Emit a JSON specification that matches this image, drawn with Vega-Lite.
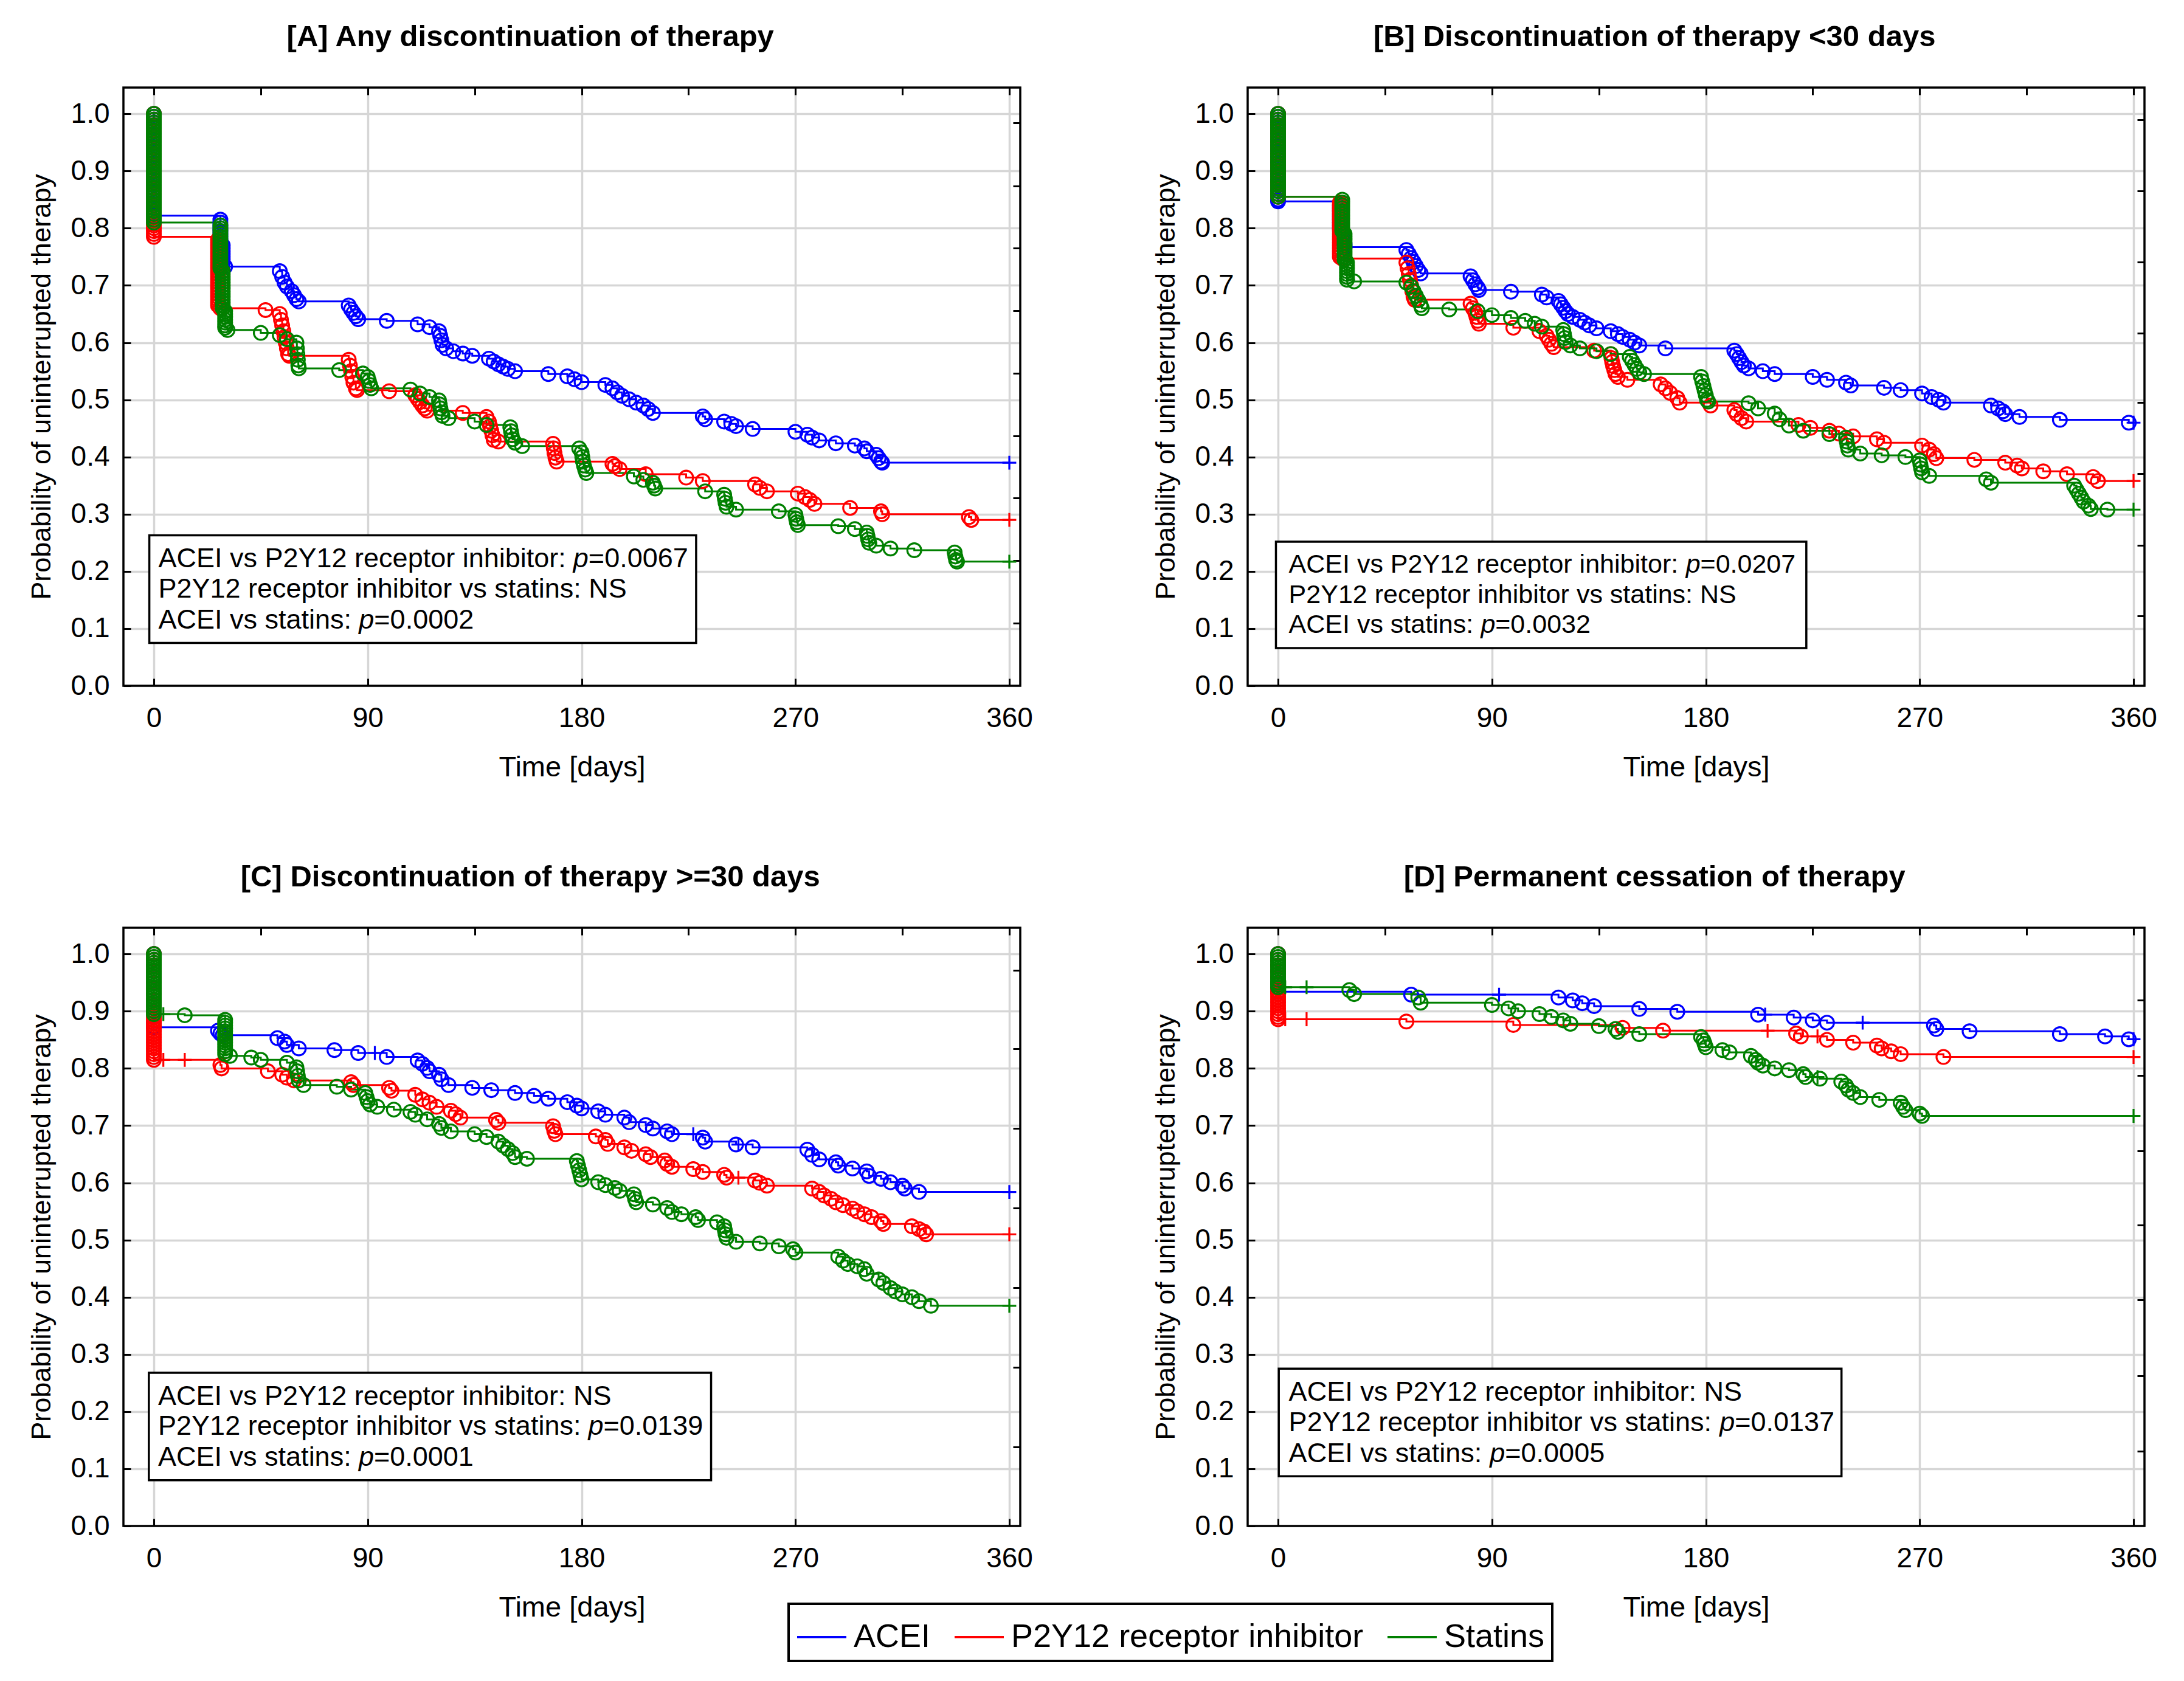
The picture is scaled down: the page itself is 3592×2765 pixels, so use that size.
{
  "$schema": "https://vega.github.io/schema/vega-lite/v6.json",
  "background": "white",
  "padding": {"left": 46, "top": 37, "right": 10, "bottom": 10},
  "bounds": "flush",
  "columns": 2,
  "spacing": {"row": 398, "column": 374},
  "config": {
    "font": "Liberation Sans",
    "view": {"stroke": null},
    "axis": {"domain": false, "labelFont": "Liberation Sans", "labelFontSize": 46, "labelColor": "black", "titleFont": "Liberation Sans", "titleFontWeight": "normal", "titleColor": "black", "tickColor": "black", "tickWidth": 3, "tickSize": -12, "gridColor": "#d6d6d6", "gridWidth": 3.5, "labelFlush": false, "labelOverlap": false},
    "title": {"font": "Liberation Sans", "fontSize": 49, "fontWeight": "bold", "color": "black", "anchor": "middle", "frame": "bounds", "offset": 56},
    "text": {"font": "Liberation Sans", "fontSize": 45, "align": "left", "baseline": "alphabetic", "color": "black"},
    "legend": {"strokeColor": "black", "strokeWidth": 4, "padding": 12, "labelFont": "Liberation Sans", "labelFontSize": 54, "labelColor": "black", "labelLimit": 2000, "labelOffset": 10, "columnPadding": 32, "symbolStrokeWidth": 3.5}
  },
  "datasets": {
    "A": [
      {"g":"A","t":0,"s":1},{"g":"A","t":0,"s":0.995},{"g":"A","t":0,"s":0.99},{"g":"A","t":0,"s":0.985},{"g":"A","t":0,"s":0.98},{"g":"A","t":0,"s":0.975},{"g":"A","t":0,"s":0.97},{"g":"A","t":0,"s":0.965},{"g":"A","t":0,"s":0.96},{"g":"A","t":0,"s":0.955},{"g":"A","t":0,"s":0.95},{"g":"A","t":0,"s":0.945},{"g":"A","t":0,"s":0.94},{"g":"A","t":0,"s":0.935},{"g":"A","t":0,"s":0.93},{"g":"A","t":0,"s":0.925},{"g":"A","t":0,"s":0.92},{"g":"A","t":0,"s":0.915},{"g":"A","t":0,"s":0.91},{"g":"A","t":0,"s":0.905},{"g":"A","t":0,"s":0.9},{"g":"A","t":0,"s":0.895},{"g":"A","t":0,"s":0.89},{"g":"A","t":0,"s":0.885},{"g":"A","t":0,"s":0.88},{"g":"A","t":0,"s":0.875},{"g":"A","t":0,"s":0.87},{"g":"A","t":0,"s":0.865},{"g":"A","t":0,"s":0.86},{"g":"A","t":0,"s":0.855},{"g":"A","t":0,"s":0.85},{"g":"A","t":0,"s":0.845},{"g":"A","t":0,"s":0.84},{"g":"A","t":0,"s":0.835},{"g":"A","t":0,"s":0.83},{"g":"A","t":0,"s":0.826},{"g":"A","t":0,"s":0.822},
      {"g":"A","t":28,"s":0.815},{"g":"A","t":28,"s":0.81},{"g":"A","t":28,"s":0.805},{"g":"A","t":28,"s":0.8},{"g":"A","t":28,"s":0.795},{"g":"A","t":28,"s":0.79},{"g":"A","t":28,"s":0.785},{"g":"A","t":28,"s":0.78},{"g":"A","t":28,"s":0.775},{"g":"A","t":29,"s":0.77},{"g":"A","t":29,"s":0.765},{"g":"A","t":29,"s":0.76},{"g":"A","t":29,"s":0.755},{"g":"A","t":29,"s":0.75},{"g":"A","t":29,"s":0.745},{"g":"A","t":29,"s":0.74},{"g":"A","t":30,"s":0.733},
      {"g":"A","t":53,"s":0.725},{"g":"A","t":54,"s":0.715},{"g":"A","t":55,"s":0.705},{"g":"A","t":56,"s":0.698},{"g":"A","t":58,"s":0.69},{"g":"A","t":59,"s":0.683},{"g":"A","t":60,"s":0.676},{"g":"A","t":61,"s":0.672},
      {"g":"A","t":82,"s":0.665},{"g":"A","t":83,"s":0.658},{"g":"A","t":84,"s":0.652},{"g":"A","t":85,"s":0.646},{"g":"A","t":86,"s":0.641},{"g":"A","t":98,"s":0.638},
      {"g":"A","t":111,"s":0.632},{"g":"A","t":116,"s":0.627},{"g":"A","t":120,"s":0.62},{"g":"A","t":120.5,"s":0.612},{"g":"A","t":121,"s":0.604},{"g":"A","t":121.5,"s":0.596},{"g":"A","t":123,"s":0.59},{"g":"A","t":126,"s":0.585},{"g":"A","t":130,"s":0.581},{"g":"A","t":134,"s":0.577},
      {"g":"A","t":141,"s":0.572},{"g":"A","t":143,"s":0.567},{"g":"A","t":145,"s":0.562},{"g":"A","t":147,"s":0.558},{"g":"A","t":149,"s":0.554},{"g":"A","t":152,"s":0.55},
      {"g":"A","t":166,"s":0.545},{"g":"A","t":174,"s":0.541},{"g":"A","t":177,"s":0.536},{"g":"A","t":180,"s":0.531},
      {"g":"A","t":190,"s":0.526},{"g":"A","t":193,"s":0.52},{"g":"A","t":195,"s":0.513},{"g":"A","t":197,"s":0.507},{"g":"A","t":200,"s":0.501},{"g":"A","t":203,"s":0.495},{"g":"A","t":206,"s":0.49},{"g":"A","t":208,"s":0.484},{"g":"A","t":210,"s":0.477},
      {"g":"A","t":231,"s":0.471},{"g":"A","t":232,"s":0.466},{"g":"A","t":240,"s":0.462},{"g":"A","t":243,"s":0.458},{"g":"A","t":245,"s":0.454},{"g":"A","t":252,"s":0.449},
      {"g":"A","t":270,"s":0.444},{"g":"A","t":275,"s":0.439},{"g":"A","t":277,"s":0.434},{"g":"A","t":280,"s":0.429},{"g":"A","t":287,"s":0.424},{"g":"A","t":295,"s":0.42},{"g":"A","t":299,"s":0.415},{"g":"A","t":300,"s":0.41},{"g":"A","t":304,"s":0.404},{"g":"A","t":305,"s":0.398},{"g":"A","t":306,"s":0.392},{"g":"A","t":306.5,"s":0.39},
      {"g":"A","t":360,"s":0.39,"m":"+"},
      {"g":"P","t":0,"s":1},{"g":"P","t":0,"s":0.99},{"g":"P","t":0,"s":0.98},{"g":"P","t":0,"s":0.97},{"g":"P","t":0,"s":0.96},{"g":"P","t":0,"s":0.95},{"g":"P","t":0,"s":0.94},{"g":"P","t":0,"s":0.93},{"g":"P","t":0,"s":0.92},{"g":"P","t":0,"s":0.91},{"g":"P","t":0,"s":0.9},{"g":"P","t":0,"s":0.89},{"g":"P","t":0,"s":0.88},{"g":"P","t":0,"s":0.87},{"g":"P","t":0,"s":0.86},{"g":"P","t":0,"s":0.85},{"g":"P","t":0,"s":0.84},{"g":"P","t":0,"s":0.83},{"g":"P","t":0,"s":0.82},{"g":"P","t":0,"s":0.815},{"g":"P","t":0,"s":0.81},{"g":"P","t":0,"s":0.805},{"g":"P","t":0,"s":0.8},{"g":"P","t":0,"s":0.795},{"g":"P","t":0,"s":0.79},{"g":"P","t":0,"s":0.785},
      {"g":"P","t":27,"s":0.78},{"g":"P","t":27,"s":0.775},{"g":"P","t":27,"s":0.77},{"g":"P","t":27,"s":0.765},{"g":"P","t":27,"s":0.76},{"g":"P","t":27,"s":0.755},{"g":"P","t":27,"s":0.75},{"g":"P","t":27,"s":0.745},{"g":"P","t":27,"s":0.74},{"g":"P","t":27,"s":0.735},{"g":"P","t":27,"s":0.73},{"g":"P","t":27,"s":0.725},{"g":"P","t":27,"s":0.72},{"g":"P","t":27,"s":0.715},{"g":"P","t":27,"s":0.71},{"g":"P","t":27,"s":0.705},{"g":"P","t":27,"s":0.7},{"g":"P","t":27,"s":0.695},{"g":"P","t":27,"s":0.69},{"g":"P","t":27,"s":0.685},{"g":"P","t":27,"s":0.68},{"g":"P","t":27,"s":0.675},{"g":"P","t":27,"s":0.67},{"g":"P","t":27,"s":0.665},{"g":"P","t":28,"s":0.66},
      {"g":"P","t":47,"s":0.657},{"g":"P","t":53,"s":0.65},{"g":"P","t":53.5,"s":0.64},{"g":"P","t":54,"s":0.63},{"g":"P","t":54.5,"s":0.62},{"g":"P","t":55,"s":0.61},{"g":"P","t":55.5,"s":0.6},{"g":"P","t":56,"s":0.59},{"g":"P","t":56.5,"s":0.58},{"g":"P","t":57,"s":0.577},
      {"g":"P","t":82,"s":0.57},{"g":"P","t":82.5,"s":0.56},{"g":"P","t":83,"s":0.55},{"g":"P","t":83.5,"s":0.54},{"g":"P","t":84,"s":0.53},{"g":"P","t":85,"s":0.52},{"g":"P","t":85.5,"s":0.517},{"g":"P","t":99,"s":0.515},
      {"g":"P","t":110,"s":0.508},{"g":"P","t":111,"s":0.502},{"g":"P","t":112,"s":0.496},{"g":"P","t":113,"s":0.49},{"g":"P","t":114,"s":0.485},{"g":"P","t":115,"s":0.481},
      {"g":"P","t":130,"s":0.477},{"g":"P","t":140,"s":0.47},{"g":"P","t":141,"s":0.462},{"g":"P","t":141.5,"s":0.454},{"g":"P","t":142,"s":0.446},{"g":"P","t":142.5,"s":0.438},{"g":"P","t":143,"s":0.43},{"g":"P","t":145,"s":0.427},
      {"g":"P","t":168,"s":0.423},{"g":"P","t":168.3,"s":0.415},{"g":"P","t":168.6,"s":0.407},{"g":"P","t":169,"s":0.399},{"g":"P","t":169.5,"s":0.392},
      {"g":"P","t":193,"s":0.388},{"g":"P","t":194,"s":0.384},{"g":"P","t":196,"s":0.379},{"g":"P","t":207,"s":0.37},{"g":"P","t":224,"s":0.364},{"g":"P","t":231,"s":0.358},{"g":"P","t":253,"s":0.352},{"g":"P","t":255,"s":0.346},{"g":"P","t":258,"s":0.34},
      {"g":"P","t":271,"s":0.336},{"g":"P","t":274,"s":0.33},{"g":"P","t":276,"s":0.325},{"g":"P","t":278,"s":0.318},{"g":"P","t":293,"s":0.311},{"g":"P","t":306,"s":0.305},{"g":"P","t":306.5,"s":0.3},{"g":"P","t":343,"s":0.295},{"g":"P","t":344,"s":0.29},
      {"g":"P","t":360,"s":0.29,"m":"+"},
      {"g":"S","t":0,"s":1},{"g":"S","t":0,"s":0.995},{"g":"S","t":0,"s":0.99},{"g":"S","t":0,"s":0.985},{"g":"S","t":0,"s":0.98},{"g":"S","t":0,"s":0.975},{"g":"S","t":0,"s":0.97},{"g":"S","t":0,"s":0.965},{"g":"S","t":0,"s":0.96},{"g":"S","t":0,"s":0.955},{"g":"S","t":0,"s":0.95},{"g":"S","t":0,"s":0.945},{"g":"S","t":0,"s":0.94},{"g":"S","t":0,"s":0.935},{"g":"S","t":0,"s":0.93},{"g":"S","t":0,"s":0.925},{"g":"S","t":0,"s":0.92},{"g":"S","t":0,"s":0.915},{"g":"S","t":0,"s":0.91},{"g":"S","t":0,"s":0.905},{"g":"S","t":0,"s":0.9},{"g":"S","t":0,"s":0.895},{"g":"S","t":0,"s":0.89},{"g":"S","t":0,"s":0.885},{"g":"S","t":0,"s":0.88},{"g":"S","t":0,"s":0.875},{"g":"S","t":0,"s":0.87},{"g":"S","t":0,"s":0.865},{"g":"S","t":0,"s":0.86},{"g":"S","t":0,"s":0.855},{"g":"S","t":0,"s":0.85},{"g":"S","t":0,"s":0.845},{"g":"S","t":0,"s":0.84},{"g":"S","t":0,"s":0.835},{"g":"S","t":0,"s":0.83},{"g":"S","t":0,"s":0.825},{"g":"S","t":0,"s":0.82},{"g":"S","t":0,"s":0.815},{"g":"S","t":0,"s":0.81},
      {"g":"S","t":28,"s":0.805},{"g":"S","t":28,"s":0.8},{"g":"S","t":28,"s":0.795},{"g":"S","t":28,"s":0.79},{"g":"S","t":28,"s":0.785},{"g":"S","t":28,"s":0.78},{"g":"S","t":28,"s":0.775},{"g":"S","t":28,"s":0.77},{"g":"S","t":28,"s":0.765},{"g":"S","t":28,"s":0.76},{"g":"S","t":28,"s":0.755},{"g":"S","t":28,"s":0.75},{"g":"S","t":28,"s":0.745},{"g":"S","t":28,"s":0.74},{"g":"S","t":28,"s":0.735},{"g":"S","t":28,"s":0.73},{"g":"S","t":29,"s":0.725},{"g":"S","t":29,"s":0.72},{"g":"S","t":29,"s":0.715},{"g":"S","t":29,"s":0.71},{"g":"S","t":29,"s":0.705},{"g":"S","t":29,"s":0.7},{"g":"S","t":29,"s":0.695},{"g":"S","t":29,"s":0.69},{"g":"S","t":29,"s":0.685},{"g":"S","t":29,"s":0.68},{"g":"S","t":29,"s":0.675},{"g":"S","t":29,"s":0.67},{"g":"S","t":29,"s":0.665},{"g":"S","t":29,"s":0.66},{"g":"S","t":30,"s":0.655},{"g":"S","t":30,"s":0.65},{"g":"S","t":30,"s":0.645},{"g":"S","t":30,"s":0.64},{"g":"S","t":30,"s":0.635},{"g":"S","t":30,"s":0.63},{"g":"S","t":30,"s":0.626},{"g":"S","t":31,"s":0.622},
      {"g":"S","t":45,"s":0.617},{"g":"S","t":53,"s":0.613},{"g":"S","t":56,"s":0.606},{"g":"S","t":60,"s":0.6},{"g":"S","t":60.2,"s":0.59},{"g":"S","t":60.4,"s":0.58},{"g":"S","t":60.6,"s":0.57},{"g":"S","t":60.8,"s":0.56},{"g":"S","t":61,"s":0.555},
      {"g":"S","t":78,"s":0.552},{"g":"S","t":88,"s":0.546},{"g":"S","t":90,"s":0.54},{"g":"S","t":90.5,"s":0.533},{"g":"S","t":91,"s":0.526},{"g":"S","t":91.5,"s":0.52},
      {"g":"S","t":108,"s":0.518},{"g":"S","t":112,"s":0.511},{"g":"S","t":116,"s":0.505},{"g":"S","t":120,"s":0.499},{"g":"S","t":120.3,"s":0.492},{"g":"S","t":120.6,"s":0.485},{"g":"S","t":121,"s":0.478},{"g":"S","t":121.5,"s":0.472},{"g":"S","t":124,"s":0.468},
      {"g":"S","t":135,"s":0.462},{"g":"S","t":140,"s":0.456},{"g":"S","t":150,"s":0.452},{"g":"S","t":150.3,"s":0.445},{"g":"S","t":150.6,"s":0.438},{"g":"S","t":151,"s":0.431},{"g":"S","t":152,"s":0.425},{"g":"S","t":155,"s":0.419},
      {"g":"S","t":179,"s":0.415},{"g":"S","t":180,"s":0.408},{"g":"S","t":180.3,"s":0.4},{"g":"S","t":180.6,"s":0.392},{"g":"S","t":181,"s":0.385},{"g":"S","t":181.5,"s":0.378},{"g":"S","t":182,"s":0.372},
      {"g":"S","t":202,"s":0.366},{"g":"S","t":206,"s":0.36},{"g":"S","t":210,"s":0.355},{"g":"S","t":210.5,"s":0.35},{"g":"S","t":211,"s":0.345},
      {"g":"S","t":232,"s":0.34},{"g":"S","t":240,"s":0.334},{"g":"S","t":240.3,"s":0.327},{"g":"S","t":240.6,"s":0.32},{"g":"S","t":241,"s":0.313},{"g":"S","t":245,"s":0.308},
      {"g":"S","t":263,"s":0.305},{"g":"S","t":270,"s":0.299},{"g":"S","t":270.3,"s":0.292},{"g":"S","t":270.6,"s":0.286},{"g":"S","t":271,"s":0.281},
      {"g":"S","t":288,"s":0.279},{"g":"S","t":295,"s":0.274},{"g":"S","t":300,"s":0.268},{"g":"S","t":300.3,"s":0.262},{"g":"S","t":300.6,"s":0.256},{"g":"S","t":301,"s":0.25},{"g":"S","t":304,"s":0.245},{"g":"S","t":310,"s":0.24},{"g":"S","t":320,"s":0.237},
      {"g":"S","t":337,"s":0.233},{"g":"S","t":337.3,"s":0.226},{"g":"S","t":337.6,"s":0.22},{"g":"S","t":338,"s":0.217},
      {"g":"S","t":360,"s":0.217,"m":"+"}
    ],
    "B": [
      {"g":"A","t":0,"s":1},{"g":"A","t":0,"s":0.995},{"g":"A","t":0,"s":0.99},{"g":"A","t":0,"s":0.985},{"g":"A","t":0,"s":0.98},{"g":"A","t":0,"s":0.975},{"g":"A","t":0,"s":0.97},{"g":"A","t":0,"s":0.965},{"g":"A","t":0,"s":0.96},{"g":"A","t":0,"s":0.955},{"g":"A","t":0,"s":0.95},{"g":"A","t":0,"s":0.945},{"g":"A","t":0,"s":0.94},{"g":"A","t":0,"s":0.935},{"g":"A","t":0,"s":0.93},{"g":"A","t":0,"s":0.925},{"g":"A","t":0,"s":0.92},{"g":"A","t":0,"s":0.915},{"g":"A","t":0,"s":0.91},{"g":"A","t":0,"s":0.905},{"g":"A","t":0,"s":0.9},{"g":"A","t":0,"s":0.895},{"g":"A","t":0,"s":0.89},{"g":"A","t":0,"s":0.885},{"g":"A","t":0,"s":0.88},{"g":"A","t":0,"s":0.875},{"g":"A","t":0,"s":0.87},{"g":"A","t":0,"s":0.865},{"g":"A","t":0,"s":0.86},{"g":"A","t":0,"s":0.855},{"g":"A","t":0,"s":0.85},{"g":"A","t":0,"s":0.847},
      {"g":"A","t":26,"s":0.84},{"g":"A","t":26,"s":0.835},{"g":"A","t":26,"s":0.83},{"g":"A","t":26,"s":0.825},{"g":"A","t":26,"s":0.82},{"g":"A","t":26,"s":0.815},{"g":"A","t":26,"s":0.81},{"g":"A","t":26,"s":0.805},{"g":"A","t":26,"s":0.8},{"g":"A","t":27,"s":0.795},{"g":"A","t":27,"s":0.79},{"g":"A","t":27,"s":0.785},{"g":"A","t":27,"s":0.78},{"g":"A","t":28,"s":0.772},{"g":"A","t":28,"s":0.767},
      {"g":"A","t":54,"s":0.762},{"g":"A","t":55,"s":0.755},{"g":"A","t":56,"s":0.748},{"g":"A","t":57,"s":0.741},{"g":"A","t":58,"s":0.734},{"g":"A","t":59,"s":0.727},{"g":"A","t":60,"s":0.721},
      {"g":"A","t":81,"s":0.716},{"g":"A","t":82,"s":0.709},{"g":"A","t":83,"s":0.702},{"g":"A","t":84,"s":0.696},{"g":"A","t":84.5,"s":0.692},
      {"g":"A","t":98,"s":0.689},{"g":"A","t":111,"s":0.684},{"g":"A","t":113,"s":0.679},{"g":"A","t":118,"s":0.673},{"g":"A","t":119,"s":0.667},{"g":"A","t":120,"s":0.661},{"g":"A","t":121,"s":0.655},{"g":"A","t":122,"s":0.65},{"g":"A","t":124,"s":0.645},{"g":"A","t":127,"s":0.64},{"g":"A","t":129,"s":0.635},{"g":"A","t":131,"s":0.63},{"g":"A","t":134,"s":0.625},{"g":"A","t":140,"s":0.62},{"g":"A","t":143,"s":0.615},{"g":"A","t":145,"s":0.61},{"g":"A","t":148,"s":0.605},{"g":"A","t":150,"s":0.6},{"g":"A","t":152,"s":0.595},
      {"g":"A","t":163,"s":0.59},{"g":"A","t":192,"s":0.586},{"g":"A","t":193,"s":0.58},{"g":"A","t":194,"s":0.573},{"g":"A","t":195,"s":0.566},{"g":"A","t":196,"s":0.56},{"g":"A","t":198,"s":0.555},{"g":"A","t":204,"s":0.55},{"g":"A","t":209,"s":0.545},
      {"g":"A","t":225,"s":0.54},{"g":"A","t":231,"s":0.535},{"g":"A","t":239,"s":0.53},{"g":"A","t":241,"s":0.525},{"g":"A","t":255,"s":0.521},{"g":"A","t":262,"s":0.517},{"g":"A","t":271,"s":0.511},{"g":"A","t":275,"s":0.505},{"g":"A","t":278,"s":0.5},{"g":"A","t":280,"s":0.495},
      {"g":"A","t":300,"s":0.49},{"g":"A","t":303,"s":0.485},{"g":"A","t":305,"s":0.48},{"g":"A","t":306,"s":0.475},{"g":"A","t":312,"s":0.47},{"g":"A","t":329,"s":0.465},{"g":"A","t":358,"s":0.46},
      {"g":"A","t":360,"s":0.46,"m":"+"},
      {"g":"P","t":0,"s":1},{"g":"P","t":0,"s":0.99},{"g":"P","t":0,"s":0.98},{"g":"P","t":0,"s":0.97},{"g":"P","t":0,"s":0.96},{"g":"P","t":0,"s":0.95},{"g":"P","t":0,"s":0.94},{"g":"P","t":0,"s":0.93},{"g":"P","t":0,"s":0.92},{"g":"P","t":0,"s":0.91},{"g":"P","t":0,"s":0.9},{"g":"P","t":0,"s":0.89},{"g":"P","t":0,"s":0.88},{"g":"P","t":0,"s":0.87},{"g":"P","t":0,"s":0.86},{"g":"P","t":0,"s":0.855},
      {"g":"P","t":26,"s":0.845},{"g":"P","t":26,"s":0.84},{"g":"P","t":26,"s":0.835},{"g":"P","t":26,"s":0.83},{"g":"P","t":26,"s":0.825},{"g":"P","t":26,"s":0.82},{"g":"P","t":26,"s":0.815},{"g":"P","t":26,"s":0.81},{"g":"P","t":26,"s":0.805},{"g":"P","t":26,"s":0.8},{"g":"P","t":26,"s":0.795},{"g":"P","t":26,"s":0.79},{"g":"P","t":26,"s":0.785},{"g":"P","t":26,"s":0.78},{"g":"P","t":26,"s":0.775},{"g":"P","t":26,"s":0.77},{"g":"P","t":26,"s":0.765},{"g":"P","t":26,"s":0.76},{"g":"P","t":26,"s":0.755},{"g":"P","t":26,"s":0.75},{"g":"P","t":27,"s":0.747},
      {"g":"P","t":54,"s":0.74},{"g":"P","t":54.5,"s":0.73},{"g":"P","t":55,"s":0.72},{"g":"P","t":55.5,"s":0.71},{"g":"P","t":56,"s":0.7},{"g":"P","t":56.5,"s":0.69},{"g":"P","t":57,"s":0.68},{"g":"P","t":57.5,"s":0.675},
      {"g":"P","t":81,"s":0.668},{"g":"P","t":82,"s":0.66},{"g":"P","t":83,"s":0.652},{"g":"P","t":83.5,"s":0.645},{"g":"P","t":84,"s":0.638},{"g":"P","t":84.5,"s":0.633},
      {"g":"P","t":99,"s":0.626},{"g":"P","t":110,"s":0.62},{"g":"P","t":113,"s":0.612},{"g":"P","t":114,"s":0.605},{"g":"P","t":115,"s":0.598},{"g":"P","t":116,"s":0.592},
      {"g":"P","t":133,"s":0.586},{"g":"P","t":140,"s":0.58},{"g":"P","t":140.3,"s":0.573},{"g":"P","t":140.6,"s":0.566},{"g":"P","t":141,"s":0.559},{"g":"P","t":141.5,"s":0.552},{"g":"P","t":142,"s":0.545},{"g":"P","t":143,"s":0.54},{"g":"P","t":147,"s":0.535},
      {"g":"P","t":161,"s":0.527},{"g":"P","t":163,"s":0.52},{"g":"P","t":165,"s":0.512},{"g":"P","t":168,"s":0.503},{"g":"P","t":169,"s":0.495},
      {"g":"P","t":182,"s":0.49},{"g":"P","t":192,"s":0.482},{"g":"P","t":193,"s":0.475},{"g":"P","t":195,"s":0.468},{"g":"P","t":197,"s":0.462},{"g":"P","t":219,"s":0.456},{"g":"P","t":224,"s":0.451},{"g":"P","t":232,"s":0.446},{"g":"P","t":236,"s":0.441},{"g":"P","t":242,"s":0.436},{"g":"P","t":252,"s":0.431},{"g":"P","t":255,"s":0.425},
      {"g":"P","t":271,"s":0.42},{"g":"P","t":274,"s":0.413},{"g":"P","t":276,"s":0.405},{"g":"P","t":277,"s":0.398},{"g":"P","t":293,"s":0.395},{"g":"P","t":306,"s":0.39},{"g":"P","t":311,"s":0.385},{"g":"P","t":313,"s":0.38},{"g":"P","t":322,"s":0.375},{"g":"P","t":332,"s":0.37},{"g":"P","t":343,"s":0.365},{"g":"P","t":345,"s":0.358},
      {"g":"P","t":360,"s":0.358,"m":"+"},
      {"g":"S","t":0,"s":1},{"g":"S","t":0,"s":0.995},{"g":"S","t":0,"s":0.99},{"g":"S","t":0,"s":0.985},{"g":"S","t":0,"s":0.98},{"g":"S","t":0,"s":0.975},{"g":"S","t":0,"s":0.97},{"g":"S","t":0,"s":0.965},{"g":"S","t":0,"s":0.96},{"g":"S","t":0,"s":0.955},{"g":"S","t":0,"s":0.95},{"g":"S","t":0,"s":0.945},{"g":"S","t":0,"s":0.94},{"g":"S","t":0,"s":0.935},{"g":"S","t":0,"s":0.93},{"g":"S","t":0,"s":0.925},{"g":"S","t":0,"s":0.92},{"g":"S","t":0,"s":0.915},{"g":"S","t":0,"s":0.91},{"g":"S","t":0,"s":0.905},{"g":"S","t":0,"s":0.9},{"g":"S","t":0,"s":0.895},{"g":"S","t":0,"s":0.89},{"g":"S","t":0,"s":0.885},{"g":"S","t":0,"s":0.88},{"g":"S","t":0,"s":0.875},{"g":"S","t":0,"s":0.87},{"g":"S","t":0,"s":0.865},{"g":"S","t":0,"s":0.86},{"g":"S","t":0,"s":0.855},
      {"g":"S","t":27,"s":0.85},{"g":"S","t":27,"s":0.845},{"g":"S","t":27,"s":0.84},{"g":"S","t":27,"s":0.835},{"g":"S","t":27,"s":0.83},{"g":"S","t":27,"s":0.825},{"g":"S","t":27,"s":0.82},{"g":"S","t":27,"s":0.815},{"g":"S","t":27,"s":0.81},{"g":"S","t":27,"s":0.805},{"g":"S","t":27,"s":0.8},{"g":"S","t":27,"s":0.795},{"g":"S","t":28,"s":0.79},{"g":"S","t":28,"s":0.785},{"g":"S","t":28,"s":0.78},{"g":"S","t":28,"s":0.775},{"g":"S","t":28,"s":0.77},{"g":"S","t":28,"s":0.765},{"g":"S","t":28,"s":0.76},{"g":"S","t":28,"s":0.755},{"g":"S","t":28,"s":0.75},{"g":"S","t":28,"s":0.745},{"g":"S","t":29,"s":0.74},{"g":"S","t":29,"s":0.735},{"g":"S","t":29,"s":0.73},{"g":"S","t":29,"s":0.725},{"g":"S","t":29,"s":0.72},{"g":"S","t":29,"s":0.715},{"g":"S","t":29,"s":0.71},{"g":"S","t":32,"s":0.707},
      {"g":"S","t":54,"s":0.705},{"g":"S","t":56,"s":0.698},{"g":"S","t":57,"s":0.69},{"g":"S","t":58,"s":0.682},{"g":"S","t":59,"s":0.674},{"g":"S","t":60,"s":0.666},{"g":"S","t":60.5,"s":0.66},
      {"g":"S","t":72,"s":0.658},{"g":"S","t":84,"s":0.655},{"g":"S","t":90,"s":0.648},{"g":"S","t":98,"s":0.643},{"g":"S","t":104,"s":0.638},{"g":"S","t":108,"s":0.633},{"g":"S","t":111,"s":0.628},{"g":"S","t":120,"s":0.622},{"g":"S","t":120.3,"s":0.615},{"g":"S","t":120.6,"s":0.608},{"g":"S","t":121,"s":0.601},{"g":"S","t":123,"s":0.595},{"g":"S","t":127,"s":0.59},{"g":"S","t":134,"s":0.585},{"g":"S","t":140,"s":0.58},{"g":"S","t":148,"s":0.575},{"g":"S","t":149,"s":0.568},{"g":"S","t":150,"s":0.561},{"g":"S","t":151,"s":0.554},{"g":"S","t":152,"s":0.548},{"g":"S","t":154,"s":0.545},
      {"g":"S","t":178,"s":0.54},{"g":"S","t":178.5,"s":0.532},{"g":"S","t":179,"s":0.524},{"g":"S","t":179.5,"s":0.516},{"g":"S","t":180,"s":0.508},{"g":"S","t":180.5,"s":0.5},{"g":"S","t":181,"s":0.497},
      {"g":"S","t":198,"s":0.494},{"g":"S","t":202,"s":0.485},{"g":"S","t":209,"s":0.476},{"g":"S","t":211,"s":0.466},{"g":"S","t":215,"s":0.455},{"g":"S","t":221,"s":0.446},{"g":"S","t":232,"s":0.44},{"g":"S","t":239,"s":0.434},{"g":"S","t":239.3,"s":0.427},{"g":"S","t":239.6,"s":0.42},{"g":"S","t":240,"s":0.413},{"g":"S","t":245,"s":0.406},{"g":"S","t":254,"s":0.403},{"g":"S","t":264,"s":0.4},
      {"g":"S","t":270,"s":0.394},{"g":"S","t":270.3,"s":0.387},{"g":"S","t":270.6,"s":0.38},{"g":"S","t":271,"s":0.373},{"g":"S","t":274,"s":0.367},{"g":"S","t":298,"s":0.361},{"g":"S","t":300,"s":0.355},
      {"g":"S","t":335,"s":0.35},{"g":"S","t":336,"s":0.343},{"g":"S","t":337,"s":0.336},{"g":"S","t":338,"s":0.329},{"g":"S","t":339,"s":0.322},{"g":"S","t":341,"s":0.315},{"g":"S","t":342,"s":0.309},{"g":"S","t":349,"s":0.308},
      {"g":"S","t":360,"s":0.308,"m":"+"}
    ],
    "C": [
      {"g":"A","t":0,"s":1},{"g":"A","t":0,"s":0.99},{"g":"A","t":0,"s":0.98},{"g":"A","t":0,"s":0.97},{"g":"A","t":0,"s":0.96},{"g":"A","t":0,"s":0.95},{"g":"A","t":0,"s":0.94},{"g":"A","t":0,"s":0.93},{"g":"A","t":0,"s":0.92},{"g":"A","t":0,"s":0.91},{"g":"A","t":0,"s":0.9},{"g":"A","t":0,"s":0.89},{"g":"A","t":0,"s":0.88},{"g":"A","t":0,"s":0.872},
      {"g":"A","t":27,"s":0.866},{"g":"A","t":28,"s":0.861},{"g":"A","t":29,"s":0.858},
      {"g":"A","t":52,"s":0.853},{"g":"A","t":55,"s":0.847},{"g":"A","t":56,"s":0.841},{"g":"A","t":61,"s":0.835},{"g":"A","t":76,"s":0.832},{"g":"A","t":86,"s":0.827},{"g":"A","t":93,"s":0.827,"m":"+"},{"g":"A","t":98,"s":0.82},
      {"g":"A","t":111,"s":0.814},{"g":"A","t":113,"s":0.808},{"g":"A","t":115,"s":0.801},{"g":"A","t":116,"s":0.795},{"g":"A","t":120,"s":0.789},{"g":"A","t":121,"s":0.781},{"g":"A","t":124,"s":0.771},{"g":"A","t":134,"s":0.766},{"g":"A","t":142,"s":0.762},{"g":"A","t":152,"s":0.757},{"g":"A","t":160,"s":0.752},{"g":"A","t":166,"s":0.747},{"g":"A","t":174,"s":0.741},{"g":"A","t":178,"s":0.735},{"g":"A","t":180,"s":0.73},
      {"g":"A","t":187,"s":0.725},{"g":"A","t":190,"s":0.719},{"g":"A","t":198,"s":0.714},{"g":"A","t":200,"s":0.706},{"g":"A","t":207,"s":0.701},{"g":"A","t":210,"s":0.695},{"g":"A","t":216,"s":0.69},{"g":"A","t":218,"s":0.685},{"g":"A","t":227,"s":0.685,"m":"+"},{"g":"A","t":231,"s":0.679},{"g":"A","t":232,"s":0.672},{"g":"A","t":245,"s":0.667},{"g":"A","t":246,"s":0.667,"m":"+"},{"g":"A","t":252,"s":0.662},
      {"g":"A","t":275,"s":0.658},{"g":"A","t":277,"s":0.649},{"g":"A","t":280,"s":0.641},{"g":"A","t":287,"s":0.636},{"g":"A","t":288,"s":0.63},{"g":"A","t":294,"s":0.625},{"g":"A","t":300,"s":0.62},{"g":"A","t":301,"s":0.612},{"g":"A","t":306,"s":0.607},{"g":"A","t":310,"s":0.601},{"g":"A","t":315,"s":0.595},{"g":"A","t":316,"s":0.59},{"g":"A","t":322,"s":0.584},
      {"g":"A","t":360,"s":0.584,"m":"+"},
      {"g":"P","t":0,"s":1},{"g":"P","t":0,"s":0.99},{"g":"P","t":0,"s":0.98},{"g":"P","t":0,"s":0.97},{"g":"P","t":0,"s":0.96},{"g":"P","t":0,"s":0.95},{"g":"P","t":0,"s":0.94},{"g":"P","t":0,"s":0.93},{"g":"P","t":0,"s":0.92},{"g":"P","t":0,"s":0.91},{"g":"P","t":0,"s":0.9},{"g":"P","t":0,"s":0.895},{"g":"P","t":0,"s":0.89},{"g":"P","t":0,"s":0.885},{"g":"P","t":0,"s":0.88},{"g":"P","t":0,"s":0.875},{"g":"P","t":0,"s":0.87},{"g":"P","t":0,"s":0.865},{"g":"P","t":0,"s":0.86},{"g":"P","t":0,"s":0.855},{"g":"P","t":0,"s":0.85},{"g":"P","t":0,"s":0.845},{"g":"P","t":0,"s":0.84},{"g":"P","t":0,"s":0.835},{"g":"P","t":0,"s":0.83},{"g":"P","t":0,"s":0.825},{"g":"P","t":0,"s":0.82},{"g":"P","t":0,"s":0.815},
      {"g":"P","t":4,"s":0.815,"m":"+"},{"g":"P","t":13,"s":0.815,"m":"+"},{"g":"P","t":28,"s":0.806},{"g":"P","t":28.5,"s":0.8},
      {"g":"P","t":48,"s":0.795},{"g":"P","t":54,"s":0.789},{"g":"P","t":56,"s":0.784},{"g":"P","t":59,"s":0.779},{"g":"P","t":83,"s":0.776},{"g":"P","t":84,"s":0.771},{"g":"P","t":99,"s":0.766},{"g":"P","t":100,"s":0.761},{"g":"P","t":110,"s":0.754},{"g":"P","t":113,"s":0.746},{"g":"P","t":116,"s":0.74},{"g":"P","t":119,"s":0.733},{"g":"P","t":125,"s":0.726},{"g":"P","t":127,"s":0.72},{"g":"P","t":129,"s":0.714},{"g":"P","t":144,"s":0.71},{"g":"P","t":145,"s":0.705},
      {"g":"P","t":168,"s":0.699},{"g":"P","t":168.5,"s":0.691},{"g":"P","t":169,"s":0.685},{"g":"P","t":186,"s":0.681},{"g":"P","t":190,"s":0.675},{"g":"P","t":191,"s":0.668},{"g":"P","t":198,"s":0.662},{"g":"P","t":201,"s":0.656},{"g":"P","t":207,"s":0.65},{"g":"P","t":209,"s":0.645},{"g":"P","t":215,"s":0.639},{"g":"P","t":216,"s":0.633},{"g":"P","t":218,"s":0.628},
      {"g":"P","t":227,"s":0.624},{"g":"P","t":231,"s":0.619},{"g":"P","t":240,"s":0.614},{"g":"P","t":241,"s":0.609},{"g":"P","t":246,"s":0.609,"m":"+"},{"g":"P","t":253,"s":0.604},{"g":"P","t":255,"s":0.6},{"g":"P","t":258,"s":0.595},
      {"g":"P","t":277,"s":0.59},{"g":"P","t":280,"s":0.584},{"g":"P","t":282,"s":0.578},{"g":"P","t":285,"s":0.572},{"g":"P","t":287,"s":0.566},{"g":"P","t":290,"s":0.561},{"g":"P","t":294,"s":0.555},{"g":"P","t":296,"s":0.55},{"g":"P","t":299,"s":0.545},{"g":"P","t":302,"s":0.54},{"g":"P","t":306,"s":0.533},{"g":"P","t":307,"s":0.528},{"g":"P","t":319,"s":0.524},{"g":"P","t":322,"s":0.519},{"g":"P","t":324,"s":0.515},{"g":"P","t":325,"s":0.51},
      {"g":"P","t":360,"s":0.51,"m":"+"},
      {"g":"S","t":0,"s":1},{"g":"S","t":0,"s":0.995},{"g":"S","t":0,"s":0.99},{"g":"S","t":0,"s":0.985},{"g":"S","t":0,"s":0.98},{"g":"S","t":0,"s":0.975},{"g":"S","t":0,"s":0.97},{"g":"S","t":0,"s":0.965},{"g":"S","t":0,"s":0.96},{"g":"S","t":0,"s":0.955},{"g":"S","t":0,"s":0.95},{"g":"S","t":0,"s":0.945},{"g":"S","t":0,"s":0.94},{"g":"S","t":0,"s":0.935},{"g":"S","t":0,"s":0.93},{"g":"S","t":0,"s":0.925},{"g":"S","t":0,"s":0.92},{"g":"S","t":0,"s":0.915},{"g":"S","t":0,"s":0.91},{"g":"S","t":0,"s":0.905},{"g":"S","t":0,"s":0.9},{"g":"S","t":0,"s":0.895},
      {"g":"S","t":4,"s":0.895,"m":"+"},{"g":"S","t":13,"s":0.893},
      {"g":"S","t":30,"s":0.885},{"g":"S","t":30,"s":0.88},{"g":"S","t":30,"s":0.875},{"g":"S","t":30,"s":0.87},{"g":"S","t":30,"s":0.865},{"g":"S","t":30,"s":0.86},{"g":"S","t":30,"s":0.855},{"g":"S","t":30,"s":0.85},{"g":"S","t":30,"s":0.845},{"g":"S","t":30,"s":0.84},{"g":"S","t":30,"s":0.835},{"g":"S","t":30,"s":0.83},{"g":"S","t":30,"s":0.825},{"g":"S","t":32,"s":0.822},
      {"g":"S","t":41,"s":0.819},{"g":"S","t":45,"s":0.815},{"g":"S","t":56,"s":0.81},{"g":"S","t":60,"s":0.802},{"g":"S","t":60.3,"s":0.795},{"g":"S","t":60.6,"s":0.787},{"g":"S","t":61,"s":0.779},{"g":"S","t":63,"s":0.771},{"g":"S","t":77,"s":0.768},{"g":"S","t":83,"s":0.763},{"g":"S","t":89,"s":0.757},{"g":"S","t":89.5,"s":0.75},{"g":"S","t":90,"s":0.743},{"g":"S","t":91,"s":0.737},{"g":"S","t":94,"s":0.733},
      {"g":"S","t":101,"s":0.728},{"g":"S","t":108,"s":0.724},{"g":"S","t":110,"s":0.719},{"g":"S","t":115,"s":0.711},{"g":"S","t":120,"s":0.703},{"g":"S","t":121,"s":0.696},{"g":"S","t":125,"s":0.69},{"g":"S","t":135,"s":0.685},{"g":"S","t":140,"s":0.68},{"g":"S","t":145,"s":0.672},{"g":"S","t":147,"s":0.665},{"g":"S","t":149,"s":0.659},{"g":"S","t":151,"s":0.652},{"g":"S","t":152,"s":0.645},{"g":"S","t":157,"s":0.642},
      {"g":"S","t":178,"s":0.638},{"g":"S","t":178.5,"s":0.63},{"g":"S","t":179,"s":0.622},{"g":"S","t":179.5,"s":0.614},{"g":"S","t":180,"s":0.606},{"g":"S","t":187,"s":0.601},{"g":"S","t":190,"s":0.596},{"g":"S","t":194,"s":0.591},{"g":"S","t":196,"s":0.586},{"g":"S","t":202,"s":0.58},{"g":"S","t":202.5,"s":0.572},{"g":"S","t":203,"s":0.566},{"g":"S","t":210,"s":0.562},{"g":"S","t":216,"s":0.556},{"g":"S","t":218,"s":0.549},{"g":"S","t":222,"s":0.545},{"g":"S","t":228,"s":0.54},{"g":"S","t":229,"s":0.535},
      {"g":"S","t":237,"s":0.531},{"g":"S","t":240,"s":0.524},{"g":"S","t":240.3,"s":0.517},{"g":"S","t":240.6,"s":0.51},{"g":"S","t":241,"s":0.504},{"g":"S","t":245,"s":0.497},{"g":"S","t":255,"s":0.494},{"g":"S","t":263,"s":0.489},{"g":"S","t":269,"s":0.484},{"g":"S","t":270,"s":0.478},
      {"g":"S","t":288,"s":0.471},{"g":"S","t":290,"s":0.464},{"g":"S","t":292,"s":0.458},{"g":"S","t":296,"s":0.454},{"g":"S","t":299,"s":0.449},{"g":"S","t":300,"s":0.441},{"g":"S","t":305,"s":0.431},{"g":"S","t":307,"s":0.425},{"g":"S","t":310,"s":0.416},{"g":"S","t":312,"s":0.41},{"g":"S","t":315,"s":0.405},{"g":"S","t":319,"s":0.4},{"g":"S","t":322,"s":0.393},{"g":"S","t":327,"s":0.385},
      {"g":"S","t":360,"s":0.385,"m":"+"}
    ],
    "D": [
      {"g":"A","t":0,"s":1},{"g":"A","t":0,"s":0.99},{"g":"A","t":0,"s":0.98},{"g":"A","t":0,"s":0.97},{"g":"A","t":0,"s":0.96},{"g":"A","t":0,"s":0.95},{"g":"A","t":0,"s":0.94},{"g":"A","t":0,"s":0.934},
      {"g":"A","t":56,"s":0.929},{"g":"A","t":93,"s":0.929,"m":"+"},{"g":"A","t":118,"s":0.924},{"g":"A","t":124,"s":0.919},{"g":"A","t":128,"s":0.914},{"g":"A","t":133,"s":0.909},{"g":"A","t":152,"s":0.904},{"g":"A","t":168,"s":0.899},{"g":"A","t":202,"s":0.894},{"g":"A","t":205,"s":0.894,"m":"+"},{"g":"A","t":217,"s":0.889},{"g":"A","t":225,"s":0.884},{"g":"A","t":231,"s":0.88},{"g":"A","t":246,"s":0.88,"m":"+"},{"g":"A","t":276,"s":0.875},{"g":"A","t":277,"s":0.869},{"g":"A","t":291,"s":0.865},{"g":"A","t":329,"s":0.86},{"g":"A","t":348,"s":0.856},{"g":"A","t":358,"s":0.851},
      {"g":"A","t":360,"s":0.851,"m":"+"},
      {"g":"P","t":0,"s":1},{"g":"P","t":0,"s":0.99},{"g":"P","t":0,"s":0.98},{"g":"P","t":0,"s":0.97},{"g":"P","t":0,"s":0.96},{"g":"P","t":0,"s":0.95},{"g":"P","t":0,"s":0.94},{"g":"P","t":0,"s":0.935},{"g":"P","t":0,"s":0.93},{"g":"P","t":0,"s":0.925},{"g":"P","t":0,"s":0.92},{"g":"P","t":0,"s":0.915},{"g":"P","t":0,"s":0.91},{"g":"P","t":0,"s":0.905},{"g":"P","t":0,"s":0.9},{"g":"P","t":0,"s":0.895},{"g":"P","t":0,"s":0.89},{"g":"P","t":0,"s":0.886},
      {"g":"P","t":3,"s":0.886,"m":"+"},{"g":"P","t":12,"s":0.886,"m":"+"},{"g":"P","t":54,"s":0.882},{"g":"P","t":99,"s":0.876},{"g":"P","t":145,"s":0.871},{"g":"P","t":162,"s":0.866},{"g":"P","t":206,"s":0.866,"m":"+"},{"g":"P","t":218,"s":0.861},{"g":"P","t":220,"s":0.856},{"g":"P","t":227,"s":0.856,"m":"+"},{"g":"P","t":231,"s":0.85},{"g":"P","t":242,"s":0.845},{"g":"P","t":252,"s":0.84},{"g":"P","t":254,"s":0.835},{"g":"P","t":258,"s":0.83},{"g":"P","t":262,"s":0.825},{"g":"P","t":280,"s":0.82},
      {"g":"P","t":360,"s":0.82,"m":"+"},
      {"g":"S","t":0,"s":1},{"g":"S","t":0,"s":0.995},{"g":"S","t":0,"s":0.99},{"g":"S","t":0,"s":0.985},{"g":"S","t":0,"s":0.98},{"g":"S","t":0,"s":0.975},{"g":"S","t":0,"s":0.97},{"g":"S","t":0,"s":0.965},{"g":"S","t":0,"s":0.96},{"g":"S","t":0,"s":0.955},{"g":"S","t":0,"s":0.95},{"g":"S","t":0,"s":0.946},{"g":"S","t":0,"s":0.942},
      {"g":"S","t":3,"s":0.942,"m":"+"},{"g":"S","t":12,"s":0.942,"m":"+"},{"g":"S","t":30,"s":0.937},{"g":"S","t":32,"s":0.93},{"g":"S","t":59,"s":0.924},{"g":"S","t":60,"s":0.915},{"g":"S","t":90,"s":0.911},{"g":"S","t":97,"s":0.905},{"g":"S","t":101,"s":0.9},{"g":"S","t":110,"s":0.895},{"g":"S","t":115,"s":0.89},{"g":"S","t":120,"s":0.884},{"g":"S","t":123,"s":0.878},{"g":"S","t":135,"s":0.874},{"g":"S","t":142,"s":0.869},{"g":"S","t":143,"s":0.864},{"g":"S","t":152,"s":0.86},
      {"g":"S","t":178,"s":0.855},{"g":"S","t":179,"s":0.849},{"g":"S","t":179.5,"s":0.843},{"g":"S","t":180,"s":0.837},{"g":"S","t":187,"s":0.832},{"g":"S","t":190,"s":0.828},{"g":"S","t":199,"s":0.822},{"g":"S","t":201,"s":0.815},{"g":"S","t":202,"s":0.81},{"g":"S","t":204,"s":0.805},{"g":"S","t":209,"s":0.8},{"g":"S","t":215,"s":0.797},{"g":"S","t":221,"s":0.79},{"g":"S","t":222,"s":0.785},{"g":"S","t":227,"s":0.785,"m":"+"},{"g":"S","t":228,"s":0.782},
      {"g":"S","t":237,"s":0.777},{"g":"S","t":239,"s":0.77},{"g":"S","t":240,"s":0.763},{"g":"S","t":242,"s":0.757},{"g":"S","t":245,"s":0.75},{"g":"S","t":253,"s":0.745},{"g":"S","t":262,"s":0.74},{"g":"S","t":263,"s":0.733},{"g":"S","t":264,"s":0.727},{"g":"S","t":270,"s":0.721},{"g":"S","t":271,"s":0.717},
      {"g":"S","t":360,"s":0.717,"m":"+"}
    ]
  },
  "concat": [
    {
      "width": 1475, "height": 984,
      "title": "[A] Any discontinuation of therapy",
      "data": {"name": "A"},
      "resolve": {"axis": {"x": "independent", "y": "independent"}},
      "layer": [
        {"mark": {"type": "line", "interpolate": "step-after", "strokeWidth": 3},
         "encoding": {
           "x": {"field": "t", "type": "quantitative", "scale": {"domain": [-12.8, 364.6], "nice": false, "zero": false}, "axis": {"orient": "bottom", "values": [0, 90, 180, 270, 360], "title": "Time [days]", "titleFontSize": 47, "labelPadding": 43, "titlePadding": 35, "grid": true}},
           "y": {"field": "s", "type": "quantitative", "scale": {"domain": [0, 1.046], "nice": false, "zero": false}, "axis": {"orient": "left", "values": [0, 0.1, 0.2, 0.3, 0.4, 0.5, 0.6, 0.7, 0.8, 0.9, 1], "format": ".1f", "title": "Probability of uninterrupted therapy", "titleFontSize": 45, "labelPadding": 35, "titlePadding": 25, "grid": true}},
           "color": {"field": "g", "type": "nominal", "scale": {"domain": ["A", "P", "S"], "range": ["#0000ff", "#ff0000", "#008000"]}, "legend": {"orient": "none", "legendX": 1094, "legendY": 2494, "direction": "horizontal", "title": null, "symbolType": "stroke", "symbolSize": 6561, "labelExpr": "datum.label == 'A' ? 'ACEI' : datum.label == 'P' ? 'P2Y12 receptor inhibitor' : 'Statins'"}},
           "order": [{"field": "t", "type": "quantitative"}, {"field": "s", "type": "quantitative", "sort": "descending"}]
         }},
        {"transform": [{"filter": "datum.m != '+'"}],
         "mark": {"type": "point", "shape": "circle", "filled": false, "size": 520, "strokeWidth": 3.2, "opacity": 1},
         "encoding": {
           "x": {"field": "t", "type": "quantitative", "axis": {"orient": "top", "values": [0, 45, 90, 135, 180, 225, 270, 315, 360], "labels": false, "title": null, "grid": false}},
           "y": {"field": "s", "type": "quantitative", "axis": {"orient": "right", "values": [0.109, 0.219, 0.328, 0.437, 0.546, 0.656, 0.765, 0.874, 0.984], "labels": false, "title": null, "grid": false}},
           "color": {"field": "g", "type": "nominal", "legend": null}
         }},
        {"transform": [{"filter": "datum.m == '+'"}],
         "mark": {"type": "point", "shape": "M-1,0L1,0M0,-1L0,1", "filled": false, "size": 520, "strokeWidth": 3.2, "opacity": 1},
         "encoding": {
           "x": {"field": "t", "type": "quantitative", "axis": null},
           "y": {"field": "s", "type": "quantitative", "axis": null},
           "color": {"field": "g", "type": "nominal", "legend": null}
         }},
        {"data": {"values": [{}]}, "mark": {"type": "rect", "fill": "transparent", "stroke": "black", "strokeWidth": 3.5},
         "encoding": {"x": {"datum": -12.8, "axis": null}, "x2": {"datum": 364.6}, "y": {"datum": 0, "axis": null}, "y2": {"datum": 1.046}}},
        {"data": {"values": [{}]}, "mark": {"type": "rect", "fill": "white", "stroke": "black", "strokeWidth": 3.5},
         "encoding": {"x": {"datum": -1.9, "axis": null}, "x2": {"datum": 228.2}, "y": {"datum": 0.075, "axis": null}, "y2": {"datum": 0.263}}},
        {"data": {"values": [{}]}, "mark": {"type": "text", "text": "ACEI vs P2Y12 receptor inhibitor: "}, "encoding": {"x": {"datum": 1.9, "axis": null}, "y": {"datum": 0.207, "axis": null}}},
        {"data": {"values": [{}]}, "mark": {"type": "text", "text": "p", "fontStyle": "italic"}, "encoding": {"x": {"datum": 176.5, "axis": null}, "y": {"datum": 0.207, "axis": null}}},
        {"data": {"values": [{}]}, "mark": {"type": "text", "text": "=0.0067"}, "encoding": {"x": {"datum": 182.9, "axis": null}, "y": {"datum": 0.207, "axis": null}}},
        {"data": {"values": [{}]}, "mark": {"type": "text", "text": "P2Y12 receptor inhibitor vs statins: NS"}, "encoding": {"x": {"datum": 1.9, "axis": null}, "y": {"datum": 0.154, "axis": null}}},
        {"data": {"values": [{}]}, "mark": {"type": "text", "text": "ACEI vs statins: "}, "encoding": {"x": {"datum": 1.9, "axis": null}, "y": {"datum": 0.1, "axis": null}}},
        {"data": {"values": [{}]}, "mark": {"type": "text", "text": "p", "fontStyle": "italic"}, "encoding": {"x": {"datum": 86.3, "axis": null}, "y": {"datum": 0.1, "axis": null}}},
        {"data": {"values": [{}]}, "mark": {"type": "text", "text": "=0.0002"}, "encoding": {"x": {"datum": 92.7, "axis": null}, "y": {"datum": 0.1, "axis": null}}}
      ]
    },
    {
      "width": 1475, "height": 984,
      "title": "[B] Discontinuation of therapy <30 days",
      "data": {"name": "B"},
      "resolve": {"axis": {"x": "independent", "y": "independent"}},
      "layer": [
        {"mark": {"type": "line", "interpolate": "step-after", "strokeWidth": 3},
         "encoding": {
           "x": {"field": "t", "type": "quantitative", "scale": {"domain": [-12.8, 364.6], "nice": false, "zero": false}, "axis": {"orient": "bottom", "values": [0, 90, 180, 270, 360], "title": "Time [days]", "titleFontSize": 47, "labelPadding": 43, "titlePadding": 35, "grid": true}},
           "y": {"field": "s", "type": "quantitative", "scale": {"domain": [0, 1.046], "nice": false, "zero": false}, "axis": {"orient": "left", "values": [0, 0.1, 0.2, 0.3, 0.4, 0.5, 0.6, 0.7, 0.8, 0.9, 1], "format": ".1f", "title": "Probability of uninterrupted therapy", "titleFontSize": 45, "labelPadding": 35, "titlePadding": 25, "grid": true}},
           "color": {"field": "g", "type": "nominal", "legend": null},
           "order": [{"field": "t", "type": "quantitative"}, {"field": "s", "type": "quantitative", "sort": "descending"}]
         }},
        {"transform": [{"filter": "datum.m != '+'"}],
         "mark": {"type": "point", "shape": "circle", "filled": false, "size": 520, "strokeWidth": 3.2, "opacity": 1},
         "encoding": {
           "x": {"field": "t", "type": "quantitative", "axis": {"orient": "top", "values": [0, 45, 90, 135, 180, 225, 270, 315, 360], "labels": false, "title": null, "grid": false}},
           "y": {"field": "s", "type": "quantitative", "axis": {"orient": "right", "values": [0.122, 0.246, 0.371, 0.495, 0.617, 0.741, 0.865, 0.99], "labels": false, "title": null, "grid": false}},
           "color": {"field": "g", "type": "nominal", "legend": null}
         }},
        {"transform": [{"filter": "datum.m == '+'"}],
         "mark": {"type": "point", "shape": "M-1,0L1,0M0,-1L0,1", "filled": false, "size": 520, "strokeWidth": 3.2, "opacity": 1},
         "encoding": {
           "x": {"field": "t", "type": "quantitative", "axis": null},
           "y": {"field": "s", "type": "quantitative", "axis": null},
           "color": {"field": "g", "type": "nominal", "legend": null}
         }},
        {"data": {"values": [{}]}, "mark": {"type": "rect", "fill": "transparent", "stroke": "black", "strokeWidth": 3.5},
         "encoding": {"x": {"datum": -12.8, "axis": null}, "x2": {"datum": 364.6}, "y": {"datum": 0, "axis": null}, "y2": {"datum": 1.046}}},
        {"data": {"values": [{}]}, "mark": {"type": "rect", "fill": "white", "stroke": "black", "strokeWidth": 3.5},
         "encoding": {"x": {"datum": -0.9, "axis": null}, "x2": {"datum": 222.3}, "y": {"datum": 0.066, "axis": null}, "y2": {"datum": 0.252}}},
        {"data": {"values": [{}]}, "mark": {"type": "text", "text": "ACEI vs P2Y12 receptor inhibitor: ", "fontSize": 43}, "encoding": {"x": {"datum": 4.5, "axis": null}, "y": {"datum": 0.198, "axis": null}}},
        {"data": {"values": [{}]}, "mark": {"type": "text", "text": "p", "fontStyle": "italic", "fontSize": 43}, "encoding": {"x": {"datum": 171.6, "axis": null}, "y": {"datum": 0.198, "axis": null}}},
        {"data": {"values": [{}]}, "mark": {"type": "text", "text": "=0.0207", "fontSize": 43}, "encoding": {"x": {"datum": 177.7, "axis": null}, "y": {"datum": 0.198, "axis": null}}},
        {"data": {"values": [{}]}, "mark": {"type": "text", "text": "P2Y12 receptor inhibitor vs statins: NS", "fontSize": 43}, "encoding": {"x": {"datum": 4.5, "axis": null}, "y": {"datum": 0.145, "axis": null}}},
        {"data": {"values": [{}]}, "mark": {"type": "text", "text": "ACEI vs statins: ", "fontSize": 43}, "encoding": {"x": {"datum": 4.5, "axis": null}, "y": {"datum": 0.092, "axis": null}}},
        {"data": {"values": [{}]}, "mark": {"type": "text", "text": "p", "fontStyle": "italic", "fontSize": 43}, "encoding": {"x": {"datum": 85.3, "axis": null}, "y": {"datum": 0.092, "axis": null}}},
        {"data": {"values": [{}]}, "mark": {"type": "text", "text": "=0.0032", "fontSize": 43}, "encoding": {"x": {"datum": 91.4, "axis": null}, "y": {"datum": 0.092, "axis": null}}}
      ]
    },
    {
      "width": 1475, "height": 984,
      "title": "[C] Discontinuation of therapy >=30 days",
      "data": {"name": "C"},
      "resolve": {"axis": {"x": "independent", "y": "independent"}},
      "layer": [
        {"mark": {"type": "line", "interpolate": "step-after", "strokeWidth": 3},
         "encoding": {
           "x": {"field": "t", "type": "quantitative", "scale": {"domain": [-12.8, 364.6], "nice": false, "zero": false}, "axis": {"orient": "bottom", "values": [0, 90, 180, 270, 360], "title": "Time [days]", "titleFontSize": 47, "labelPadding": 43, "titlePadding": 35, "grid": true}},
           "y": {"field": "s", "type": "quantitative", "scale": {"domain": [0, 1.046], "nice": false, "zero": false}, "axis": {"orient": "left", "values": [0, 0.1, 0.2, 0.3, 0.4, 0.5, 0.6, 0.7, 0.8, 0.9, 1], "format": ".1f", "title": "Probability of uninterrupted therapy", "titleFontSize": 45, "labelPadding": 35, "titlePadding": 25, "grid": true}},
           "color": {"field": "g", "type": "nominal", "legend": null},
           "order": [{"field": "t", "type": "quantitative"}, {"field": "s", "type": "quantitative", "sort": "descending"}]
         }},
        {"transform": [{"filter": "datum.m != '+'"}],
         "mark": {"type": "point", "shape": "circle", "filled": false, "size": 520, "strokeWidth": 3.2, "opacity": 1},
         "encoding": {
           "x": {"field": "t", "type": "quantitative", "axis": {"orient": "top", "values": [0, 45, 90, 135, 180, 225, 270, 315, 360], "labels": false, "title": null, "grid": false}},
           "y": {"field": "s", "type": "quantitative", "axis": {"orient": "right", "values": [0.138, 0.277, 0.417, 0.556, 0.695, 0.834, 0.972], "labels": false, "title": null, "grid": false}},
           "color": {"field": "g", "type": "nominal", "legend": null}
         }},
        {"transform": [{"filter": "datum.m == '+'"}],
         "mark": {"type": "point", "shape": "M-1,0L1,0M0,-1L0,1", "filled": false, "size": 520, "strokeWidth": 3.2, "opacity": 1},
         "encoding": {
           "x": {"field": "t", "type": "quantitative", "axis": null},
           "y": {"field": "s", "type": "quantitative", "axis": null},
           "color": {"field": "g", "type": "nominal", "legend": null}
         }},
        {"data": {"values": [{}]}, "mark": {"type": "rect", "fill": "transparent", "stroke": "black", "strokeWidth": 3.5},
         "encoding": {"x": {"datum": -12.8, "axis": null}, "x2": {"datum": 364.6}, "y": {"datum": 0, "axis": null}, "y2": {"datum": 1.046}}},
        {"data": {"values": [{}]}, "mark": {"type": "rect", "fill": "white", "stroke": "black", "strokeWidth": 3.5},
         "encoding": {"x": {"datum": -2.1, "axis": null}, "x2": {"datum": 234.5}, "y": {"datum": 0.08, "axis": null}, "y2": {"datum": 0.268}}},
        {"data": {"values": [{}]}, "mark": {"type": "text", "text": "ACEI vs P2Y12 receptor inhibitor: NS"}, "encoding": {"x": {"datum": 1.8, "axis": null}, "y": {"datum": 0.212, "axis": null}}},
        {"data": {"values": [{}]}, "mark": {"type": "text", "text": "P2Y12 receptor inhibitor vs statins: "}, "encoding": {"x": {"datum": 1.8, "axis": null}, "y": {"datum": 0.159, "axis": null}}},
        {"data": {"values": [{}]}, "mark": {"type": "text", "text": "p", "fontStyle": "italic"}, "encoding": {"x": {"datum": 182.8, "axis": null}, "y": {"datum": 0.159, "axis": null}}},
        {"data": {"values": [{}]}, "mark": {"type": "text", "text": "=0.0139"}, "encoding": {"x": {"datum": 189.2, "axis": null}, "y": {"datum": 0.159, "axis": null}}},
        {"data": {"values": [{}]}, "mark": {"type": "text", "text": "ACEI vs statins: "}, "encoding": {"x": {"datum": 1.8, "axis": null}, "y": {"datum": 0.105, "axis": null}}},
        {"data": {"values": [{}]}, "mark": {"type": "text", "text": "p", "fontStyle": "italic"}, "encoding": {"x": {"datum": 86.2, "axis": null}, "y": {"datum": 0.105, "axis": null}}},
        {"data": {"values": [{}]}, "mark": {"type": "text", "text": "=0.0001"}, "encoding": {"x": {"datum": 92.6, "axis": null}, "y": {"datum": 0.105, "axis": null}}}
      ]
    },
    {
      "width": 1475, "height": 984,
      "title": "[D] Permanent cessation of therapy",
      "data": {"name": "D"},
      "resolve": {"axis": {"x": "independent", "y": "independent"}},
      "layer": [
        {"mark": {"type": "line", "interpolate": "step-after", "strokeWidth": 3},
         "encoding": {
           "x": {"field": "t", "type": "quantitative", "scale": {"domain": [-12.8, 364.6], "nice": false, "zero": false}, "axis": {"orient": "bottom", "values": [0, 90, 180, 270, 360], "title": "Time [days]", "titleFontSize": 47, "labelPadding": 43, "titlePadding": 35, "grid": true}},
           "y": {"field": "s", "type": "quantitative", "scale": {"domain": [0, 1.046], "nice": false, "zero": false}, "axis": {"orient": "left", "values": [0, 0.1, 0.2, 0.3, 0.4, 0.5, 0.6, 0.7, 0.8, 0.9, 1], "format": ".1f", "title": "Probability of uninterrupted therapy", "titleFontSize": 45, "labelPadding": 35, "titlePadding": 25, "grid": true}},
           "color": {"field": "g", "type": "nominal", "legend": null},
           "order": [{"field": "t", "type": "quantitative"}, {"field": "s", "type": "quantitative", "sort": "descending"}]
         }},
        {"transform": [{"filter": "datum.m != '+'"}],
         "mark": {"type": "point", "shape": "circle", "filled": false, "size": 520, "strokeWidth": 3.2, "opacity": 1},
         "encoding": {
           "x": {"field": "t", "type": "quantitative", "axis": {"orient": "top", "values": [0, 45, 90, 135, 180, 225, 270, 315, 360], "labels": false, "title": null, "grid": false}},
           "y": {"field": "s", "type": "quantitative", "axis": {"orient": "right", "values": [0.131, 0.263, 0.395, 0.526, 0.656, 0.788, 0.92], "labels": false, "title": null, "grid": false}},
           "color": {"field": "g", "type": "nominal", "legend": null}
         }},
        {"transform": [{"filter": "datum.m == '+'"}],
         "mark": {"type": "point", "shape": "M-1,0L1,0M0,-1L0,1", "filled": false, "size": 520, "strokeWidth": 3.2, "opacity": 1},
         "encoding": {
           "x": {"field": "t", "type": "quantitative", "axis": null},
           "y": {"field": "s", "type": "quantitative", "axis": null},
           "color": {"field": "g", "type": "nominal", "legend": null}
         }},
        {"data": {"values": [{}]}, "mark": {"type": "rect", "fill": "transparent", "stroke": "black", "strokeWidth": 3.5},
         "encoding": {"x": {"datum": -12.8, "axis": null}, "x2": {"datum": 364.6}, "y": {"datum": 0, "axis": null}, "y2": {"datum": 1.046}}},
        {"data": {"values": [{}]}, "mark": {"type": "rect", "fill": "white", "stroke": "black", "strokeWidth": 3.5},
         "encoding": {"x": {"datum": 0.3, "axis": null}, "x2": {"datum": 237.1}, "y": {"datum": 0.087, "axis": null}, "y2": {"datum": 0.275}}},
        {"data": {"values": [{}]}, "mark": {"type": "text", "text": "ACEI vs P2Y12 receptor inhibitor: NS"}, "encoding": {"x": {"datum": 4.5, "axis": null}, "y": {"datum": 0.219, "axis": null}}},
        {"data": {"values": [{}]}, "mark": {"type": "text", "text": "P2Y12 receptor inhibitor vs statins: "}, "encoding": {"x": {"datum": 4.5, "axis": null}, "y": {"datum": 0.166, "axis": null}}},
        {"data": {"values": [{}]}, "mark": {"type": "text", "text": "p", "fontStyle": "italic"}, "encoding": {"x": {"datum": 185.8, "axis": null}, "y": {"datum": 0.166, "axis": null}}},
        {"data": {"values": [{}]}, "mark": {"type": "text", "text": "=0.0137"}, "encoding": {"x": {"datum": 192.2, "axis": null}, "y": {"datum": 0.166, "axis": null}}},
        {"data": {"values": [{}]}, "mark": {"type": "text", "text": "ACEI vs statins: "}, "encoding": {"x": {"datum": 4.5, "axis": null}, "y": {"datum": 0.112, "axis": null}}},
        {"data": {"values": [{}]}, "mark": {"type": "text", "text": "p", "fontStyle": "italic"}, "encoding": {"x": {"datum": 89.1, "axis": null}, "y": {"datum": 0.112, "axis": null}}},
        {"data": {"values": [{}]}, "mark": {"type": "text", "text": "=0.0005"}, "encoding": {"x": {"datum": 95.5, "axis": null}, "y": {"datum": 0.112, "axis": null}}}
      ]
    }
  ]
}
